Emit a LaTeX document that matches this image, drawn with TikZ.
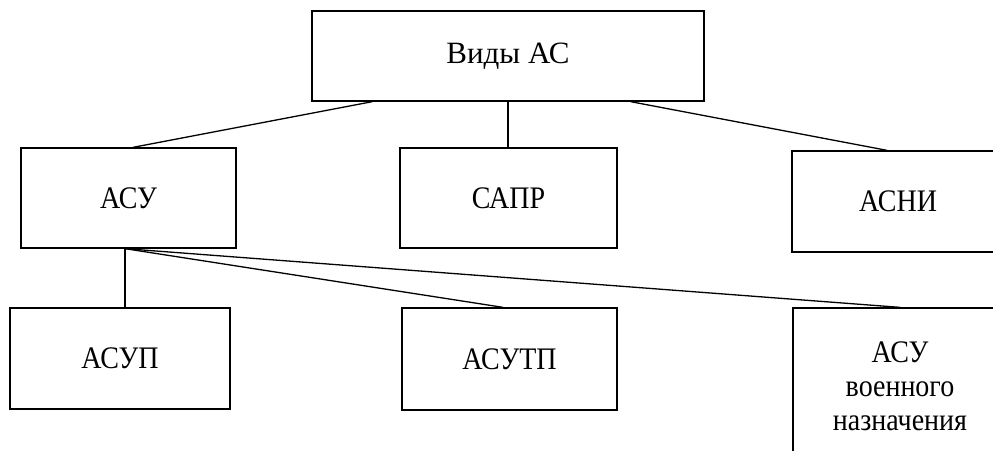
\documentclass[tikz,border=0pt]{standalone}
\usepackage{fontspec}
\usepackage{graphicx}
\setmainfont{Liberation Serif}
\usetikzlibrary{calc}
\newcommand\vtxt[1]{\raisebox{-2pt}{\scalebox{1}[1.12]{#1}}}
\begin{document}
\begin{tikzpicture}[x=1pt,y=1pt,
  box/.style={draw=black, line width=1.3pt, inner sep=0pt, align=center,
    font=\fontsize{28}{34}\selectfont},
  link/.style={draw=black, line width=1.3pt}]
\useasboundingbox (0,0) rectangle (993,-450);
\clip (0,0) rectangle (993,-450);
\fill[white] (0,0) rectangle (993,-450);
\node[box, minimum width=392, minimum height=90, font=\fontsize{31}{36}\selectfont] (vid) at (508,-56) {\raisebox{-3pt}{Виды АС}};
\node[box, minimum width=215, minimum height=100] (asu) at (128.5,-198) {\vtxt{АСУ}};
\node[box, minimum width=217, minimum height=100] (sapr) at (508.5,-198) {\vtxt{САПР}};
\node[box, minimum width=212, minimum height=101] (asni) at (898,-201.5) {\vtxt{АСНИ}};
\node[box, minimum width=220, minimum height=101] (asup) at (120,-358.5) {\vtxt{АСУП}};
\node[box, minimum width=215, minimum height=102] (asutp) at (509.5,-359) {\vtxt{АСУТП}};
\node[box, minimum width=214, minimum height=156] (asuv) at (900,-386) {\vtxt{АСУ}\\\vtxt{военного}\\\vtxt{назначения}};
\draw[link] ($(vid.south west)+(61,0)$) -- ($(asu.north)+(4.5,0)$);
\draw[link] (vid.south) -- (vid.south |- sapr.north);
\draw[link] ($(vid.south east)+(-74,0)$) -- ($(asni.north)+(-11,0)$);
\coordinate (fork) at ($(asu.south)+(-3.5,0)$);
\draw[link] (fork) -- (fork |- asup.north);
\draw[link] (fork) -- ($(asutp.north)+(-6.5,0)$);
\draw[link] (fork) -- (asuv.north);
\end{tikzpicture}
\end{document}
